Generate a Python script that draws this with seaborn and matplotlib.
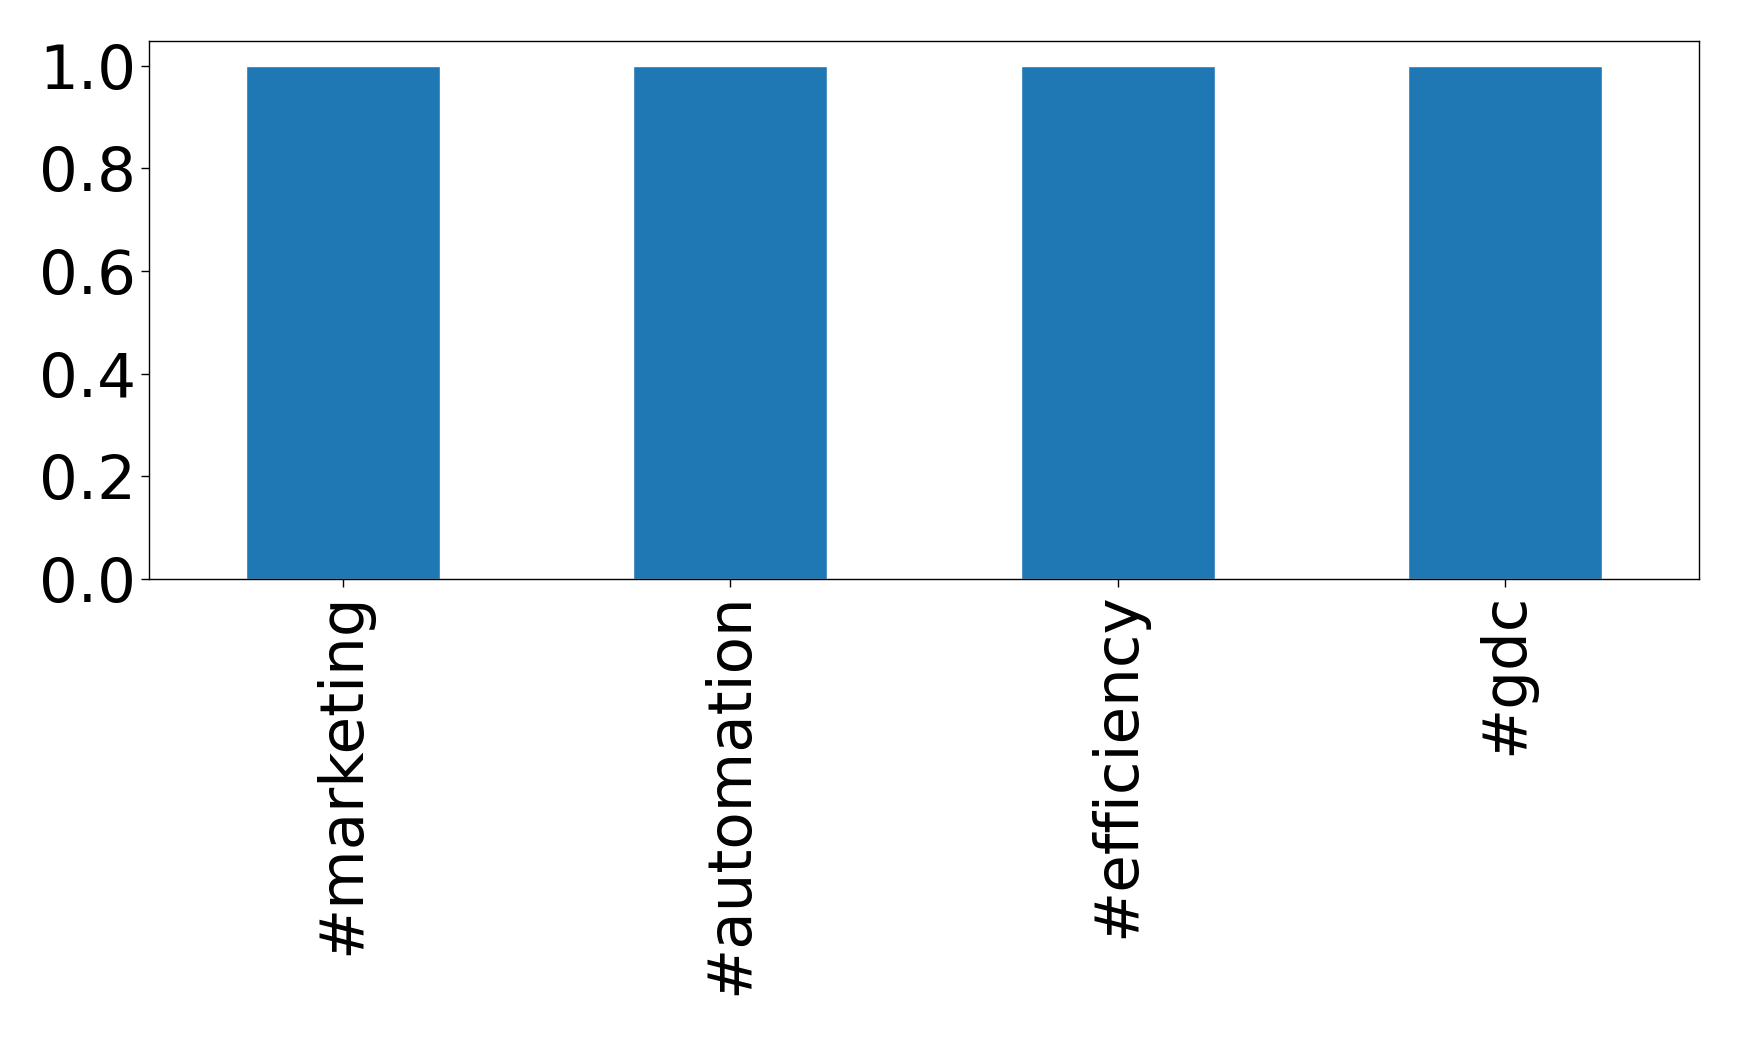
import pandas as pd
import matplotlib.pyplot as plt
import seaborn as sns

# Hashtag counts
hashtags = ['#marketing', '#automation', '#efficiency', '#gdc']
counts = [1, 1, 1, 1]
yticks = [0.0, 0.2, 0.4, 0.6, 0.8, 1.0]

df = pd.DataFrame({'hashtag': hashtags, 'count': counts})

sns.set_style('white')
plt.rcParams['font.family'] = ['DejaVu Sans']

fig = plt.figure(figsize=(17.39, 10.4), dpi=100)
ax = fig.add_axes([0.0857, 0.4433, 0.8913, 0.5173])

sns.barplot(data=df, x='hashtag', y='count', color='#1f77b4', saturation=1,
            width=0.5, ax=ax)

ax.set_xlim(-0.5, 3.5)
ax.set_ylim(0, 1.048)
ax.set_yticks(yticks)
ax.set_yticklabels([f'{t:.1f}' for t in yticks])
ax.set_xlabel('')
ax.set_ylabel('')
ax.tick_params(axis='both', labelsize=44, length=6, width=1, direction='out',
               bottom=True, left=True, colors='black', labelcolor='black')
plt.setp(ax.get_xticklabels(), rotation=90)
for spine in ax.spines.values():
    spine.set_color('black')
    spine.set_linewidth(1)

fig.savefig('out.png', dpi=100)
